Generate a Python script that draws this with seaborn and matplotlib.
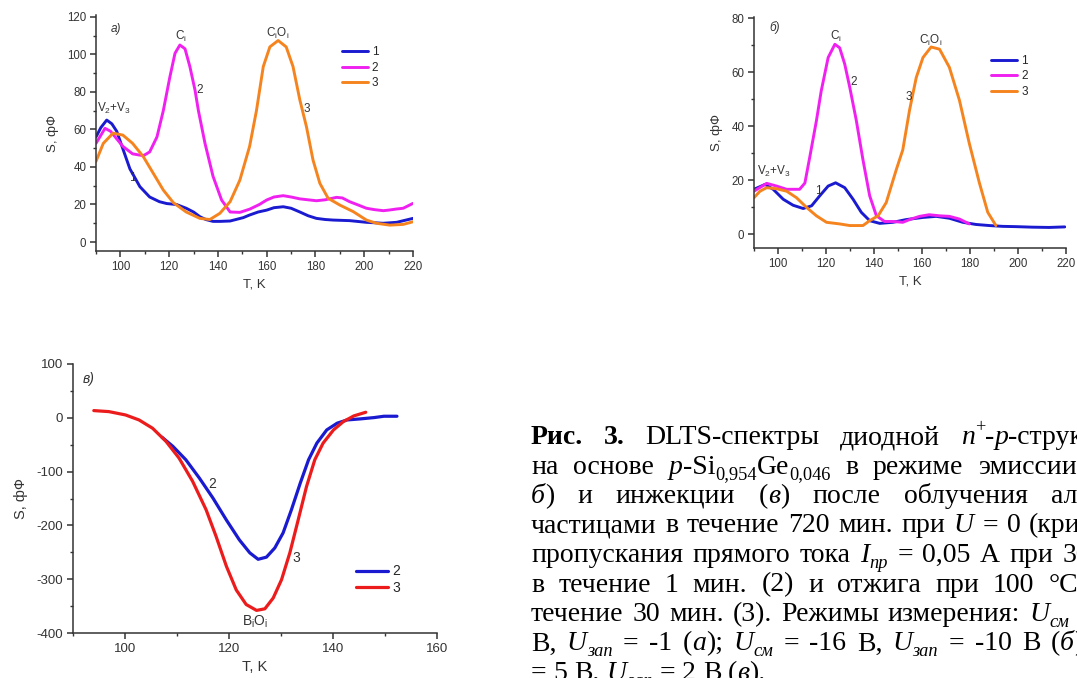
import numpy as np
import pandas as pd
import matplotlib
matplotlib.use("Agg")
import matplotlib.pyplot as plt
import seaborn as sns
from matplotlib.ticker import MultipleLocator
from matplotlib.transforms import IdentityTransform

# ---------------- data ----------------
# panel a
a_T1 = [90, 92, 94.4, 96.5, 98.5, 101.2, 103.9, 108, 112, 116, 119, 123, 127, 130, 132.6, 135, 138, 141, 145,
        150.4, 153, 156.5, 160, 163, 166.8, 170, 173.6, 177, 180.4, 184, 187.3, 194, 200.9, 207.8, 213.3, 220]
a_S1 = [56, 61, 65, 63, 59, 49, 39, 29.5, 24, 21.5, 20.5, 20, 18, 16, 13.5, 12, 11, 11, 11.2,
        13, 14.4, 16, 17, 18.3, 18.8, 18, 16, 14, 12.6, 12, 11.7, 11.4, 10.5, 10, 10.5, 12.6]
a_T2 = [90, 93.7, 96, 98.5, 101, 105, 109.4, 112, 115, 117.6, 120.3, 122.4, 124.4, 126.5, 128.5, 130.6, 132,
        134.7, 138, 141.5, 145, 149, 153, 157, 160, 163, 166.8, 170, 173.6, 177, 180.4, 184, 188.6, 191,
        194, 197, 200.9, 204, 207.8, 210, 213.3, 216, 220]
a_S2 = [52.6, 60.6, 59, 55, 51, 47, 46, 48, 56, 70, 88, 100.6, 105, 103, 93.5, 81, 70,
        52.6, 35, 22.4, 16, 15.8, 17.5, 20, 22.4, 24, 24.7, 24, 23, 22.5, 22, 22.5, 23.8, 23.5,
        21.5, 20, 18, 17.3, 16.7, 17, 17.6, 18, 20.6]
a_T3 = [90, 93, 97, 101, 105, 109.4, 113.5, 117.6, 121.7, 127, 132.6, 136.7, 140.8, 145, 149, 153, 155.8,
        158.6, 161.3, 164.7, 168, 170.8, 173.6, 176.3, 179, 181.8, 185.2, 190, 195.5, 200.9, 205, 210.5, 216, 220]
a_S3 = [43, 52.6, 58, 57, 52.6, 45.5, 36.6, 27.7, 21, 16, 12.6, 12, 15.3, 21.5, 33, 51, 70,
        93.5, 104, 107.4, 104, 93.5, 75.7, 61.5, 43.7, 31.3, 23.3, 19.7, 16.2, 11.7, 10, 9, 9.4, 10.8]

# panel б
b_T1 = [90, 94.6, 98, 102.2, 106.3, 110.5, 114, 117.4, 120.9, 124, 127.8, 131.3, 134.7, 138.2, 142.4, 147.9,
        153.4, 160.4, 165.9, 171.4, 177, 182.5, 188, 193.6, 199, 206, 213, 219.5]
b_S1 = [16.7, 18.5, 16.7, 13, 10.8, 9.6, 10.6, 14.3, 17.9, 19.1, 17.3, 13, 8.2, 5.1, 4.1, 4.5,
        5.5, 6.3, 6.7, 6, 4.5, 3.7, 3.3, 3, 2.9, 2.7, 2.6, 2.8]
b_T2 = [90, 95.3, 99.4, 103.6, 109, 111.2, 113.3, 116, 118, 120.9, 123.7, 125.7, 127.8, 129.9, 132.6, 135.4,
        138.2, 141, 144.4, 147.9, 152, 154.8, 159, 163, 167.3, 171.4, 175.6, 179.7]
b_S2 = [16, 18.9, 17.9, 16.7, 16.7, 19, 28.9, 42, 53, 65.4, 70.3, 69, 63, 54.4, 42.3, 27.6,
        14.3, 6.9, 4.8, 4.8, 4.5, 5.5, 6.7, 7.3, 6.9, 6.7, 5.7, 3.9]
b_T3 = [90, 92.5, 95.3, 99.4, 103.6, 107.7, 111.9, 116, 120.2, 125.7, 129.9, 135.4, 138.2, 141.7, 145.1, 149.3,
        152, 154.8, 157.6, 160.4, 163.8, 167.3, 171.4, 175.6, 179.7, 183.9, 187.4, 190.8]
b_S3 = [13.6, 16, 17.3, 16.9, 16, 13.6, 10, 6.9, 4.5, 3.9, 3.3, 3.3, 5.1, 6.9, 11.8, 24,
        31.3, 45.9, 58, 65.4, 69.3, 68.5, 61.8, 49.6, 33.7, 19.1, 8.2, 3.3]

# panel в
c_T2 = [107.1, 109.2, 111.7, 114.3, 116.9, 119.5, 122, 124, 125.6, 127.2, 128.8, 130.4, 132, 133.7, 135.3,
        136.9, 138.8, 140.8, 142.7, 145.3, 147.9, 149.8, 152.3]
c_S2 = [-36, -53, -78, -112, -149, -190, -227, -251, -263, -259, -242, -214, -171, -121.5, -78,
        -47, -22.5, -10, -4, -2, 0.4, 2.9, 2.9]
c_T3 = [94, 96.9, 100.1, 102.7, 105.3, 107.9, 110.4, 113, 115.6, 117.5, 119.5, 121.4, 123.3, 125.3, 126.9,
        128.5, 130.1, 131.7, 133.3, 134.9, 136.5, 138.1, 140.1, 142, 144, 146.3]
c_S3 = [13.4, 11.5, 5.3, -4, -19.4, -44, -75, -118, -171, -220, -276, -320, -347, -358, -355,
        -335, -301, -251, -190, -128, -78, -47, -22.5, -7, 3.5, 10.3]

series_labels = ["1", "2", "3"]
BLUE, MAGENTA, ORANGE, RED = "#1a1ad0", "#f020f0", "#f5841f", "#ec1c1c"

# ---------------- style ----------------
sns.set_theme(style="ticks")
plt.rcParams["font.family"] = ["Liberation Sans", "DejaVu Sans"]
plt.rcParams["mathtext.fontset"] = "custom"
plt.rcParams["mathtext.rm"] = "Liberation Sans"
plt.rcParams["mathtext.it"] = "Liberation Sans:italic"
plt.rcParams["mathtext.bf"] = "Liberation Sans:bold"
plt.rcParams["axes.unicode_minus"] = False

W, H = 1077, 678
fig = plt.figure(figsize=(W / 100, H / 100), dpi=100)
fig.patch.set_facecolor("white")


def add_ax(l, t, r, b):
    return fig.add_axes([l / W, 1 - b / H, (r - l) / W, (b - t) / H])


GRAY = "#333333"


def style(ax, xlim, ylim, xmaj, xmin, ymaj, ymin, fs, lfs):
    sns.despine(ax=ax)
    ax.set_xlim(*xlim)
    ax.set_ylim(*ylim)
    ax.xaxis.set_major_locator(MultipleLocator(xmaj))
    ax.xaxis.set_minor_locator(MultipleLocator(xmin))
    ax.yaxis.set_major_locator(MultipleLocator(ymaj))
    ax.yaxis.set_minor_locator(MultipleLocator(ymin))
    for s in ("left", "bottom"):
        ax.spines[s].set_color(GRAY)
        ax.spines[s].set_linewidth(1.1)
    ax.tick_params(which="major", length=4, width=1.1, color=GRAY, labelcolor=GRAY,
                   labelsize=fs, direction="out", pad=3)
    ax.tick_params(which="minor", length=2.5, width=1.0, color=GRAY, direction="out")
    ax.set_facecolor("white")
    ax.set_xlabel("T, K", fontsize=lfs, color=GRAY, labelpad=4)
    ax.set_ylabel("S, фФ", fontsize=lfs, color=GRAY, labelpad=6)


LW = 2.1

# ---- panel a ----
axA = add_ax(96, 15, 413, 251.4)
for T, S, c, lab in zip([a_T1, a_T2, a_T3], [a_S1, a_S2, a_S3], [BLUE, MAGENTA, ORANGE], series_labels):
    sns.lineplot(x=T, y=S, ax=axA, color=c, lw=LW, label=lab, sort=False, estimator=None)
style(axA, (90, 220), (-5, 121), 20, 10, 20, 10, 8.3, 9.5)
axA.legend(loc="upper left", bbox_to_anchor=(0.775, 0.868), frameon=False, fontsize=8.5,
           handlelength=2.2, handletextpad=0.35, labelspacing=0.3, borderpad=0, borderaxespad=0)
tk = dict(fontsize=8.5, color=GRAY, ha="center", va="center")
axA.text(98, 113.5, "a)", fontstyle="italic", **tk)
axA.text(125, 109.5, "C$_\\mathrm{i}$", **tk)
axA.text(132.6, 81, "2", **tk)
axA.text(164.5, 111, "C$_\\mathrm{i}$O$_\\mathrm{i}$", **tk)
axA.text(176.6, 70.8, "3", **tk)
axA.text(97.5, 71, "V$_2$+V$_3$", **tk)
axA.text(105, 34, "1", **tk)

# ---- panel б ----
axB = add_ax(754, 16.7, 1066, 248)
for T, S, c, lab in zip([b_T1, b_T2, b_T3], [b_S1, b_S2, b_S3], [BLUE, MAGENTA, ORANGE], series_labels):
    sns.lineplot(x=T, y=S, ax=axB, color=c, lw=LW, label=lab, sort=False, estimator=None)
style(axB, (90, 220), (-5, 80.5), 20, 10, 20, 10, 8.3, 9.5)
axB.legend(loc="upper left", bbox_to_anchor=(0.76, 0.836), frameon=False, fontsize=8.5,
           handlelength=2.2, handletextpad=0.35, labelspacing=0.3, borderpad=0, borderaxespad=0)
axB.text(98.7, 76.4, "б)", fontstyle="italic", **tk)
axB.text(124, 73.3, "C$_\\mathrm{i}$", **tk)
axB.text(131.6, 56.3, "2", **tk)
axB.text(163.8, 71.7, "C$_\\mathrm{i}$O$_\\mathrm{i}$", **tk)
axB.text(154.5, 51, "3", **tk)
axB.text(98.5, 23.4, "V$_2$+V$_3$", **tk)
axB.text(116.7, 16, "1", **tk)

# ---- panel в ----
axC = add_ax(73, 364, 437, 633)
for T, S, c, lab in zip([c_T2, c_T3], [c_S2, c_S3], [BLUE, RED], series_labels[1:]):
    sns.lineplot(x=T, y=S, ax=axC, color=c, lw=LW + 0.2, label=lab, sort=False, estimator=None)
style(axC, (90, 160), (-400, 100), 20, 10, 100, 50, 9.5, 10.5)
axC.legend(loc="upper left", bbox_to_anchor=(0.777, 0.255), frameon=False, fontsize=10,
           handlelength=2.3, handletextpad=0.35, labelspacing=0.2, borderpad=0, borderaxespad=0)
tk2 = dict(fontsize=10, color=GRAY, ha="center", va="center")
axC.text(93, 73, "в)", fontstyle="italic", **tk2)
axC.text(116.8, -123, "2", **tk2)
axC.text(133, -261, "3", **tk2)
axC.text(125, -379, "B$_\\mathrm{i}$O$_\\mathrm{i}$", **tk2)

# ---------------- caption ----------------
FS = 20.0
FS_PX = FS * 100 / 72
CAP_X0 = 531
CAP_Y0 = 444
CAP_DY = 29.5


def W_(s, st="n"):
    return [(s, st)]


U_sm = [("U", "i"), ("см", "isub")]
U_zap = [("U", "i"), ("зап", "isub")]
cap_lines = [
    [W_("Рис.", "b"), W_("3.", "b"), W_("DLTS-спектры"), W_("диодной"),
     [("n", "i"), ("+", "sup"), ("-", "n"), ("p", "i"), ("-структуры", "n")]],
    [W_("на"), W_("основе"), [("p", "i"), ("-Si", "n"), ("0,954", "sub"), ("Ge", "n"), ("0,046", "sub")],
     W_("в"), W_("режиме"), W_("эмиссии"), [("(", "n"), ("а", "i"), (",", "n")]],
    [[("б", "i"), (")", "n")], W_("и"), W_("инжекции"), [("(", "n"), ("в", "i"), (")", "n")],
     W_("после"), W_("облучения"), W_("альфа-")],
    [W_("частицами"), W_("в"), W_("течение"), W_("720"), W_("мин."), W_("при"), W_("U", "i"),
     W_("="), W_("0"), W_("(кривая")],
    [W_("пропускания"), W_("прямого"), W_("тока"), [("I", "i"), ("пр", "isub")], W_("="), W_("0,05"),
     W_("А"), W_("при"), W_("300"), W_("К")],
    [W_("в"), W_("течение"), W_("1"), W_("мин."), W_("(2)"), W_("и"), W_("отжига"), W_("при"),
     W_("100"), W_("°С")],
    [W_("течение"), W_("30"), W_("мин."), W_("(3)."), W_("Режимы"), W_("измерения:"), U_sm, W_("="), W_("-5")],
    [W_("В,"), U_zap, W_("="), W_("-1"), [("(", "n"), ("а", "i"), (");", "n")], U_sm, W_("="), W_("-16"),
     W_("В,"), U_zap, W_("="), W_("-10"), W_("В"), [("(", "n"), ("б", "i"), (");", "n")], U_sm],
    [W_("="), W_("5"), W_("В,"), U_zap, W_("="), W_("2"), W_("В"), [("(", "n"), ("в", "i"), (").", "n")]],
]
cap_targets = [(4, 961), (5, 978), (6, 1051), (9, 1029), (8, 1063), (8, 993), (6, 1029), (13, 1051), None]

renderer = fig.canvas.get_renderer()


def seg_kw(st):
    kw = dict(family="Liberation Serif", fontsize=FS, color="black", va="baseline", ha="left")
    dy = 0.0
    if st == "b":
        kw["fontweight"] = "bold"
    if st in ("i", "isub"):
        kw["fontstyle"] = "italic"
    if st in ("sub", "isub"):
        kw["fontsize"] = FS * 0.66
        dy = -0.2 * FS_PX
    if st == "sup":
        kw["fontsize"] = FS * 0.66
        dy = 0.42 * FS_PX
    return kw, dy


def place_word(word, x, y):
    for txt, st in word:
        kw, dy = seg_kw(st)
        t = fig.text(x, (H - y) + dy, txt, transform=IdentityTransform(), **kw)
        x += t.get_window_extent(renderer).width
    return x


def word_width(word):
    w = 0.0
    for txt, st in word:
        kw, dy = seg_kw(st)
        t = fig.text(0, 0, txt, transform=IdentityTransform(), **kw)
        w += t.get_window_extent(renderer).width
        t.remove()
    return w


for i, (line, tgt) in enumerate(zip(cap_lines, cap_targets)):
    y = CAP_Y0 + i * CAP_DY
    widths = [word_width(w) for w in line]
    if tgt is None:
        gap = 0.25 * FS_PX
    else:
        k, xt = tgt
        gap = max((xt - CAP_X0 - sum(widths[:k])) / k, 0.2 * FS_PX)
    x = CAP_X0
    for w, wd in zip(line, widths):
        place_word(w, x, y)
        x += wd + gap

fig.savefig("out.png", dpi=100, facecolor="white")
